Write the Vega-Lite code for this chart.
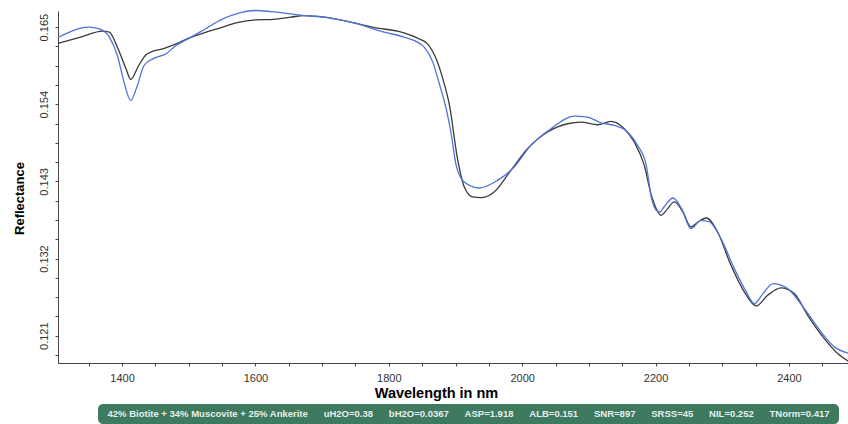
{
  "$schema": "https://vega.github.io/schema/vega-lite/v6.json",
  "background": "white",
  "padding": {"left": 12, "top": 7, "right": 0, "bottom": 0},
  "bounds": "flush",
  "spacing": 41,
  "config": {
    "font": "Liberation Sans",
    "view": {"stroke": null},
    "axis": {"grid": false, "domainColor": "#444444", "tickColor": "#444444", "labelColor": "#333333", "titleColor": "#000000", "labelFont": "Liberation Sans", "titleFont": "Liberation Sans"}
  },
  "vconcat": [
    {
      "width": 791,
      "height": 352,
      "data": {"values": [
        {"series": "Measured", "wavelength": 1304, "reflectance": 0.16269},
        {"series": "Measured", "wavelength": 1338, "reflectance": 0.16359},
        {"series": "Measured", "wavelength": 1371, "reflectance": 0.16443},
        {"series": "Measured", "wavelength": 1381, "reflectance": 0.16429},
        {"series": "Measured", "wavelength": 1394, "reflectance": 0.16191},
        {"series": "Measured", "wavelength": 1406, "reflectance": 0.15906},
        {"series": "Measured", "wavelength": 1413, "reflectance": 0.15753},
        {"series": "Measured", "wavelength": 1425, "reflectance": 0.15953},
        {"series": "Measured", "wavelength": 1436, "reflectance": 0.16105},
        {"series": "Measured", "wavelength": 1443, "reflectance": 0.16144},
        {"series": "Measured", "wavelength": 1461, "reflectance": 0.16191},
        {"series": "Measured", "wavelength": 1481, "reflectance": 0.16262},
        {"series": "Measured", "wavelength": 1500, "reflectance": 0.16343},
        {"series": "Measured", "wavelength": 1526, "reflectance": 0.16429},
        {"series": "Measured", "wavelength": 1551, "reflectance": 0.16500},
        {"series": "Measured", "wavelength": 1571, "reflectance": 0.16561},
        {"series": "Measured", "wavelength": 1601, "reflectance": 0.16604},
        {"series": "Measured", "wavelength": 1623, "reflectance": 0.16608},
        {"series": "Measured", "wavelength": 1653, "reflectance": 0.16643},
        {"series": "Measured", "wavelength": 1673, "reflectance": 0.16665},
        {"series": "Measured", "wavelength": 1703, "reflectance": 0.16643},
        {"series": "Measured", "wavelength": 1743, "reflectance": 0.16571},
        {"series": "Measured", "wavelength": 1783, "reflectance": 0.16486},
        {"series": "Measured", "wavelength": 1813, "reflectance": 0.16443},
        {"series": "Measured", "wavelength": 1843, "reflectance": 0.16343},
        {"series": "Measured", "wavelength": 1858, "reflectance": 0.16262},
        {"series": "Measured", "wavelength": 1871, "reflectance": 0.16048},
        {"series": "Measured", "wavelength": 1881, "reflectance": 0.15763},
        {"series": "Measured", "wavelength": 1891, "reflectance": 0.15383},
        {"series": "Measured", "wavelength": 1903, "reflectance": 0.14623},
        {"series": "Measured", "wavelength": 1913, "reflectance": 0.14224},
        {"series": "Measured", "wavelength": 1926, "reflectance": 0.14078},
        {"series": "Measured", "wavelength": 1938, "reflectance": 0.14068},
        {"series": "Measured", "wavelength": 1958, "reflectance": 0.14149},
        {"series": "Measured", "wavelength": 1983, "reflectance": 0.14457},
        {"series": "Measured", "wavelength": 2008, "reflectance": 0.14766},
        {"series": "Measured", "wavelength": 2038, "reflectance": 0.15004},
        {"series": "Measured", "wavelength": 2068, "reflectance": 0.15122},
        {"series": "Measured", "wavelength": 2088, "reflectance": 0.15146},
        {"series": "Measured", "wavelength": 2113, "reflectance": 0.15108},
        {"series": "Measured", "wavelength": 2133, "reflectance": 0.15155},
        {"series": "Measured", "wavelength": 2153, "reflectance": 0.15051},
        {"series": "Measured", "wavelength": 2168, "reflectance": 0.14861},
        {"series": "Measured", "wavelength": 2183, "reflectance": 0.14528},
        {"series": "Measured", "wavelength": 2193, "reflectance": 0.14125},
        {"series": "Measured", "wavelength": 2201, "reflectance": 0.13911},
        {"series": "Measured", "wavelength": 2208, "reflectance": 0.13815},
        {"series": "Measured", "wavelength": 2217, "reflectance": 0.13897},
        {"series": "Measured", "wavelength": 2228, "reflectance": 0.14007},
        {"series": "Measured", "wavelength": 2241, "reflectance": 0.13864},
        {"series": "Measured", "wavelength": 2253, "reflectance": 0.13650},
        {"series": "Measured", "wavelength": 2264, "reflectance": 0.13725},
        {"series": "Measured", "wavelength": 2276, "reflectance": 0.13778},
        {"series": "Measured", "wavelength": 2293, "reflectance": 0.13579},
        {"series": "Measured", "wavelength": 2313, "reflectance": 0.13103},
        {"series": "Measured", "wavelength": 2333, "reflectance": 0.12724},
        {"series": "Measured", "wavelength": 2351, "reflectance": 0.12524},
        {"series": "Measured", "wavelength": 2368, "reflectance": 0.12675},
        {"series": "Measured", "wavelength": 2388, "reflectance": 0.12781},
        {"series": "Measured", "wavelength": 2408, "reflectance": 0.12700},
        {"series": "Measured", "wavelength": 2428, "reflectance": 0.12390},
        {"series": "Measured", "wavelength": 2453, "reflectance": 0.12058},
        {"series": "Measured", "wavelength": 2473, "reflectance": 0.11844},
        {"series": "Measured", "wavelength": 2491, "reflectance": 0.11726},
        {"series": "Fitted", "wavelength": 1304, "reflectance": 0.16352},
        {"series": "Fitted", "wavelength": 1351, "reflectance": 0.16500},
        {"series": "Fitted", "wavelength": 1366, "reflectance": 0.16476},
        {"series": "Fitted", "wavelength": 1381, "reflectance": 0.16358},
        {"series": "Fitted", "wavelength": 1393, "reflectance": 0.16095},
        {"series": "Fitted", "wavelength": 1403, "reflectance": 0.15716},
        {"series": "Fitted", "wavelength": 1413, "reflectance": 0.15454},
        {"series": "Fitted", "wavelength": 1423, "reflectance": 0.15668},
        {"series": "Fitted", "wavelength": 1433, "reflectance": 0.15953},
        {"series": "Fitted", "wavelength": 1446, "reflectance": 0.16048},
        {"series": "Fitted", "wavelength": 1466, "reflectance": 0.16120},
        {"series": "Fitted", "wavelength": 1481, "reflectance": 0.16238},
        {"series": "Fitted", "wavelength": 1501, "reflectance": 0.16343},
        {"series": "Fitted", "wavelength": 1521, "reflectance": 0.16452},
        {"series": "Fitted", "wavelength": 1551, "reflectance": 0.16618},
        {"series": "Fitted", "wavelength": 1571, "reflectance": 0.16690},
        {"series": "Fitted", "wavelength": 1601, "reflectance": 0.16737},
        {"series": "Fitted", "wavelength": 1623, "reflectance": 0.16722},
        {"series": "Fitted", "wavelength": 1653, "reflectance": 0.16690},
        {"series": "Fitted", "wavelength": 1673, "reflectance": 0.16665},
        {"series": "Fitted", "wavelength": 1703, "reflectance": 0.16643},
        {"series": "Fitted", "wavelength": 1743, "reflectance": 0.16571},
        {"series": "Fitted", "wavelength": 1793, "reflectance": 0.16429},
        {"series": "Fitted", "wavelength": 1823, "reflectance": 0.16358},
        {"series": "Fitted", "wavelength": 1843, "reflectance": 0.16286},
        {"series": "Fitted", "wavelength": 1853, "reflectance": 0.16215},
        {"series": "Fitted", "wavelength": 1866, "reflectance": 0.16001},
        {"series": "Fitted", "wavelength": 1875, "reflectance": 0.15716},
        {"series": "Fitted", "wavelength": 1886, "reflectance": 0.15336},
        {"series": "Fitted", "wavelength": 1893, "reflectance": 0.15008},
        {"series": "Fitted", "wavelength": 1901, "reflectance": 0.14528},
        {"series": "Fitted", "wavelength": 1913, "reflectance": 0.14291},
        {"series": "Fitted", "wavelength": 1936, "reflectance": 0.14206},
        {"series": "Fitted", "wavelength": 1963, "reflectance": 0.14314},
        {"series": "Fitted", "wavelength": 1988, "reflectance": 0.14505},
        {"series": "Fitted", "wavelength": 2013, "reflectance": 0.14813},
        {"series": "Fitted", "wavelength": 2043, "reflectance": 0.15051},
        {"series": "Fitted", "wavelength": 2078, "reflectance": 0.15232},
        {"series": "Fitted", "wavelength": 2098, "reflectance": 0.15218},
        {"series": "Fitted", "wavelength": 2118, "reflectance": 0.15136},
        {"series": "Fitted", "wavelength": 2138, "reflectance": 0.15098},
        {"series": "Fitted", "wavelength": 2158, "reflectance": 0.15004},
        {"series": "Fitted", "wavelength": 2173, "reflectance": 0.14813},
        {"series": "Fitted", "wavelength": 2186, "reflectance": 0.14528},
        {"series": "Fitted", "wavelength": 2193, "reflectance": 0.14100},
        {"series": "Fitted", "wavelength": 2201, "reflectance": 0.13887},
        {"series": "Fitted", "wavelength": 2206, "reflectance": 0.13864},
        {"series": "Fitted", "wavelength": 2214, "reflectance": 0.13953},
        {"series": "Fitted", "wavelength": 2226, "reflectance": 0.14063},
        {"series": "Fitted", "wavelength": 2239, "reflectance": 0.13911},
        {"series": "Fitted", "wavelength": 2253, "reflectance": 0.13626},
        {"series": "Fitted", "wavelength": 2268, "reflectance": 0.13744},
        {"series": "Fitted", "wavelength": 2281, "reflectance": 0.13721},
        {"series": "Fitted", "wavelength": 2298, "reflectance": 0.13483},
        {"series": "Fitted", "wavelength": 2318, "reflectance": 0.13056},
        {"series": "Fitted", "wavelength": 2336, "reflectance": 0.12724},
        {"series": "Fitted", "wavelength": 2348, "reflectance": 0.12557},
        {"series": "Fitted", "wavelength": 2361, "reflectance": 0.12700},
        {"series": "Fitted", "wavelength": 2376, "reflectance": 0.12842},
        {"series": "Fitted", "wavelength": 2398, "reflectance": 0.12771},
        {"series": "Fitted", "wavelength": 2423, "reflectance": 0.12486},
        {"series": "Fitted", "wavelength": 2448, "reflectance": 0.12154},
        {"series": "Fitted", "wavelength": 2468, "reflectance": 0.11940},
        {"series": "Fitted", "wavelength": 2491, "reflectance": 0.11844}
      ]},
      "mark": {"type": "line", "interpolate": "monotone", "strokeWidth": 1.3, "clip": false},
      "encoding": {
        "x": {
          "field": "wavelength", "type": "quantitative",
          "scale": {"domain": [1304, 2490], "nice": false, "zero": false},
          "axis": {
            "title": "Wavelength in nm",
            "values": [1350, 1400, 1450, 1500, 1550, 1600, 1650, 1700, 1750, 1800, 1850, 1900, 1950, 2000, 2050, 2100, 2150, 2200, 2250, 2300, 2350, 2400, 2450],
            "format": "d",
            "labelExpr": "datum.value % 200 == 0 ? datum.label : ''",
            "labelOverlap": false,
            "labelFlush": false,
            "labelFontSize": 11,
            "labelPadding": 6,
            "tickSize": 3,
            "titleFontSize": 14.5,
            "titleFontWeight": "bold",
            "titlePadding": 3,
            "titleX": 378
          }
        },
        "y": {
          "field": "reflectance", "type": "quantitative",
          "scale": {"domain": [0.1171, 0.1673], "nice": false, "zero": false},
          "axis": {
            "title": "Reflectance",
            "values": [0.11825, 0.121, 0.12375, 0.1265, 0.12925, 0.132, 0.13475, 0.1375, 0.14025, 0.143, 0.14575, 0.1485, 0.15125, 0.154, 0.15675, 0.1595, 0.16225, 0.165],
            "labelExpr": "round(datum.value * 100000) % 1100 == 0 ? format(datum.value, '.3f') : ''",
            "labelOverlap": false,
            "labelFlush": false,
            "labelAngle": 270,
            "labelAlign": "center",
            "labelBaseline": "bottom",
            "labelFontSize": 11,
            "labelPadding": 6,
            "tickSize": 3,
            "titleFontSize": 13,
            "titleFontWeight": "bold",
            "titlePadding": 12,
            "titleY": 187
          }
        },
        "color": {
          "field": "series", "type": "nominal",
          "scale": {"domain": ["Measured", "Fitted"], "range": ["#3a3a3a", "#4f74d9"]},
          "legend": null
        }
      }
    },
    {
      "width": 791,
      "height": 20,
      "data": {"values": [
        {"summary": "42% Biotite + 34% Muscovite + 25% Ankerite\u00a0\u00a0\u00a0\u00a0\u00a0\u00a0uH2O=0.38\u00a0\u00a0\u00a0\u00a0\u00a0\u00a0bH2O=0.0367\u00a0\u00a0\u00a0\u00a0\u00a0\u00a0ASP=1.918\u00a0\u00a0\u00a0\u00a0\u00a0\u00a0ALB=0.151\u00a0\u00a0\u00a0\u00a0\u00a0\u00a0SNR=897\u00a0\u00a0\u00a0\u00a0\u00a0\u00a0SRSS=45\u00a0\u00a0\u00a0\u00a0\u00a0\u00a0NIL=0.252\u00a0\u00a0\u00a0\u00a0\u00a0\u00a0TNorm=0.417"}
      ]},
      "layer": [
        {
          "mark": {"type": "rect", "cornerRadius": 5, "color": "#3e7a60"},
          "encoding": {
            "x": {"datum": 1364, "type": "quantitative", "scale": {"domain": [1304, 2490], "nice": false, "zero": false}, "axis": null},
            "x2": {"datum": 2475}
          }
        },
        {
          "mark": {"type": "text", "fontWeight": "bold", "fontSize": 9.5, "color": "#e6efe9", "font": "Liberation Sans"},
          "encoding": {
            "x": {"datum": 1919.5, "type": "quantitative", "axis": null},
            "text": {"field": "summary"}
          }
        }
      ]
    }
  ]
}
